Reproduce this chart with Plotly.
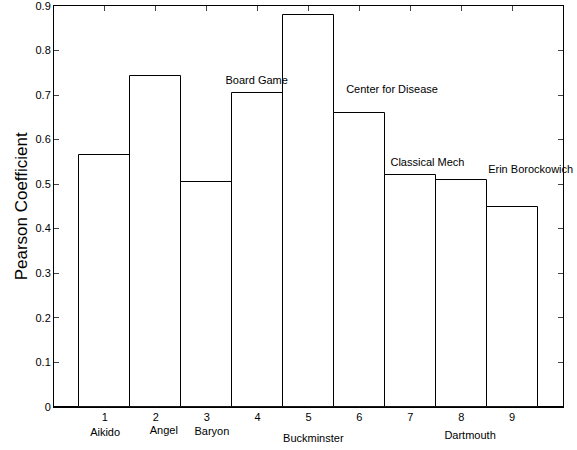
import plotly.graph_objects as go

positions = [1, 2, 3, 4, 5, 6, 7, 8, 9]
values = [0.565, 0.743, 0.504, 0.704, 0.880, 0.659, 0.520, 0.509, 0.448]
y_ticks = [0, 0.1, 0.2, 0.3, 0.4, 0.5, 0.6, 0.7, 0.8, 0.9]
y_tick_labels = ["0", "0.1", "0.2", "0.3", "0.4", "0.5", "0.6", "0.7", "0.8", "0.9"]

top_labels = ["Board Game", "Center for Disease", "Classical Mech", "Erin Borockowich"]
top_x = [3.37, 5.74, 6.61, 8.53]
top_y = [0.732, 0.711, 0.547, 0.530]

bottom_labels = ["Aikido", "Angel", "Baryon", "Buckminster", "Dartmouth"]
bottom_x = [0.71, 1.88, 2.76, 4.50, 7.67]
bottom_y = [-0.060, -0.056, -0.058, -0.073, -0.066]

FONT = "Liberation Sans, Arial, sans-serif"
Y_MAX = 0.9
Y_EXT_MIN = -0.086
MAIN_DOMAIN_START = -Y_EXT_MIN / (Y_MAX - Y_EXT_MIN)

fig = go.Figure()
fig.add_trace(go.Bar(
    x=positions, y=values, width=1,
    marker=dict(color="white", line=dict(color="black", width=1)),
    showlegend=False, hoverinfo="skip",
))
fig.add_trace(go.Scatter(
    x=top_x + bottom_x, y=top_y + bottom_y, text=top_labels + bottom_labels,
    mode="text", textposition="middle right", cliponaxis=False,
    textfont=dict(family=FONT, size=11, color="black"),
    showlegend=False, hoverinfo="skip", yaxis="y2",
))

fig.add_annotation(text="Pearson Coefficient", x=0, y=0.5 * (1 + MAIN_DOMAIN_START),
                   xref="paper", yref="paper",
                   xshift=-33, textangle=-90, showarrow=False,
                   xanchor="center", yanchor="middle",
                   font=dict(family=FONT, size=17, color="black"))

fig.update_layout(
    width=577, height=450,
    margin=dict(l=54, r=14, t=6, b=5),
    paper_bgcolor="white", plot_bgcolor="rgba(0,0,0,0)",
    font=dict(family=FONT, size=11, color="black"),
    bargap=0,
    xaxis=dict(range=[0, 10], tickvals=positions, ticks="inside", ticklen=5,
               showline=True, linecolor="black", linewidth=1, mirror="ticks",
               showgrid=False, zeroline=False, layer="below traces", anchor="y",
               automargin=False,
               tickfont=dict(family=FONT, size=11, color="black")),
    yaxis=dict(range=[0, Y_MAX], domain=[MAIN_DOMAIN_START, 1],
               tickvals=y_ticks, ticktext=y_tick_labels,
               ticks="inside", ticklen=5, ticklabeloverflow="allow",
               showline=True, linecolor="black", linewidth=1, mirror="ticks",
               showgrid=False, zeroline=True, zerolinecolor="black", zerolinewidth=2,
               layer="below traces",
               automargin=False,
               tickfont=dict(family=FONT, size=11, color="black")),
    yaxis2=dict(range=[Y_EXT_MIN, Y_MAX], domain=[0, 1], anchor="x",
                visible=False, showgrid=False, zeroline=False, automargin=False),
)

fig.write_html("out.html", config={"displayModeBar": False},
               post_script="document.body.style.margin='0';")
